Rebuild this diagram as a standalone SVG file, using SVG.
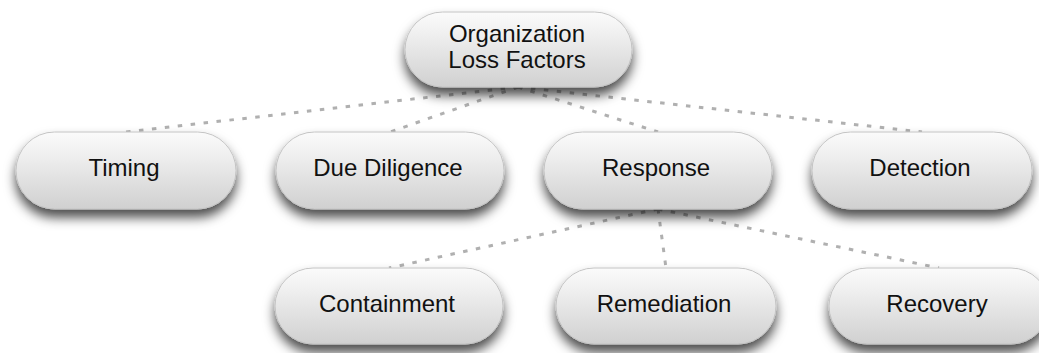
<svg xmlns="http://www.w3.org/2000/svg" width="1039" height="353" viewBox="0 0 1039 353">
  <defs>
    <linearGradient id="fill" x1="0" y1="0" x2="0" y2="1">
      <stop offset="0" stop-color="#fbfbfb"/>
      <stop offset="0.35" stop-color="#ededed"/>
      <stop offset="1" stop-color="#d0d0d0"/>
    </linearGradient>
    <filter id="shadow" x="-20%" y="-30%" width="140%" height="190%">
      <feDropShadow dx="0" dy="8" stdDeviation="6" flood-color="#000" flood-opacity="0.7"/>
    </filter>
  </defs>
  <style>
    .box { fill: url(#fill); stroke: #c4c4c4; stroke-width: 1; filter: url(#shadow); }
    .lbl { font-family: "Liberation Sans", Arial, Helvetica, sans-serif; font-size: 24px; fill: #111; text-anchor: middle; }
    .conn line { stroke: #b0b0b0; stroke-width: 3; stroke-dasharray: 4.5 8.5; fill: none; }
  </style>
  <rect width="1039" height="353" fill="#ffffff"/>
  <g id="connectors" class="conn">
    <line x1="518" y1="87" x2="126" y2="132"/>
    <line x1="518" y1="87" x2="390" y2="132"/>
    <line x1="518" y1="87" x2="658" y2="132"/>
    <line x1="518" y1="87" x2="922" y2="132"/>
    <line x1="658" y1="209" x2="389" y2="268"/>
    <line x1="658" y1="209" x2="666" y2="268"/>
    <line x1="658" y1="209" x2="939" y2="268"/>
  </g>
  <g id="node-root">
    <rect class="box" x="405" y="12" width="227" height="75" rx="37.5"/>
    <text class="lbl" x="517" y="42">Organization</text>
    <text class="lbl" x="517" y="68">Loss Factors</text>
  </g>
  <g id="node-timing">
    <rect class="box" x="16" y="132" width="220" height="77" rx="38.5"/>
    <text class="lbl" x="124" y="176">Timing</text>
  </g>
  <g id="node-due-diligence">
    <rect class="box" x="276" y="132" width="228" height="77" rx="38.5"/>
    <text class="lbl" x="388" y="176">Due Diligence</text>
  </g>
  <g id="node-response">
    <rect class="box" x="544" y="132" width="228" height="77" rx="38.5"/>
    <text class="lbl" x="656" y="176">Response</text>
  </g>
  <g id="node-detection">
    <rect class="box" x="812" y="132" width="220" height="77" rx="38.5"/>
    <text class="lbl" x="920" y="176">Detection</text>
  </g>
  <g id="node-containment">
    <rect class="box" x="275" y="268" width="228" height="76" rx="38"/>
    <text class="lbl" x="387" y="312">Containment</text>
  </g>
  <g id="node-remediation">
    <rect class="box" x="556" y="268" width="220" height="76" rx="38"/>
    <text class="lbl" x="664" y="312">Remediation</text>
  </g>
  <g id="node-recovery">
    <rect class="box" x="829" y="268" width="220" height="76" rx="38"/>
    <text class="lbl" x="937" y="312">Recovery</text>
  </g>
</svg>
